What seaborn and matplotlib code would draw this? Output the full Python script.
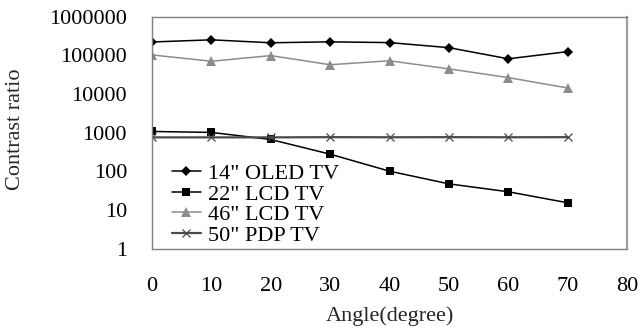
import matplotlib
matplotlib.use("Agg")
import matplotlib.pyplot as plt
import seaborn as sns
import pandas as pd

angles = [0, 10, 20, 30, 40, 50, 60, 70]
oled_14 = [220000, 250000, 210000, 222000, 212000, 157000, 81000, 124000]
lcd_22 = [1080, 1020, 670, 280, 102, 48, 30, 15.6]
lcd_46 = [102000, 70000, 98000, 57000, 72000, 44500, 26500, 14300]
pdp_50 = [760, 760, 760, 770, 765, 770, 765, 770]
series_names = ['14" OLED TV', '22" LCD TV', '46" LCD TV', '50" PDP TV']
y_ticks = [1, 10, 100, 1000, 10000, 100000, 1000000]
y_tick_labels = ["1", "10", "100", "1000", "10000", "100000", "1000000"]
x_ticks = [0, 10, 20, 30, 40, 50, 60, 70, 80]

sns.set_theme(style="white")
plt.rcParams["font.family"] = ["Liberation Serif", "DejaVu Serif"]

df = pd.DataFrame({
    "angle": angles * 4,
    "value": oled_14 + lcd_22 + lcd_46 + pdp_50,
    "series": [s for s in series_names for _ in angles],
})

styles = {
    series_names[0]: dict(color="black", marker="D", ms=5.5, mew=0, lw=1.1),
    series_names[1]: dict(color="black", marker="s", ms=6, mew=0, lw=1.1),
    series_names[2]: dict(color="#8c8c8c", marker="^", ms=7, mew=0, lw=1.1),
    series_names[3]: dict(color="#4a4a4a", marker="x", ms=6, mew=0.9, lw=1.6),
}

fig = plt.figure(figsize=(6.41, 3.34), dpi=100)
ax = fig.add_axes([152 / 641, 1 - 249 / 334, (627 - 152) / 641, (249 - 16.5) / 334])

for name in series_names:
    st = styles[name]
    sub = df[df["series"] == name]
    sns.lineplot(data=sub, x="angle", y="value", ax=ax, label=name,
                 color=st["color"], marker=st["marker"], markersize=st["ms"],
                 markeredgewidth=st["mew"], markeredgecolor=st["color"],
                 linewidth=st["lw"], estimator=None, sort=False)

ax.set_yscale("log")
ax.set_ylim(1, 1000000)
ax.set_xlim(0, 80)
ax.set_yticks(y_ticks)
ax.set_yticklabels(y_tick_labels)
ax.minorticks_off()
ax.set_xticks(x_ticks)
ax.set_xticklabels([str(v) for v in x_ticks])
ax.tick_params(axis="both", which="major", direction="in", length=6, width=0.8,
               color="#808080", labelsize=16, labelcolor="black")
ax.tick_params(axis="y", pad=18)
ax.tick_params(axis="x", pad=20)
for sp in ax.spines.values():
    sp.set_color("#808080")
    sp.set_linewidth(1.0)
ax.spines["right"].set_color("#a0a0a0")
ax.spines["right"].set_linewidth(1.6)
ax.set_xlabel("")
ax.set_ylabel("")
ax.grid(False)

fig.text(390 / 641, 1 - 316 / 334, "Angle(degree)", ha="center", va="center", fontsize=16)
fig.text(16 / 641, 1 - 190 / 334, "Contrast ratio", rotation=90,
         ha="center", va="bottom", fontsize=16)

leg = ax.legend(loc="upper left", bbox_to_anchor=(0.042, 0.368), frameon=False,
                fontsize=16, handlelength=1.3, handletextpad=0.3,
                labelspacing=0.0, borderpad=0.0, borderaxespad=0.0)
for t in leg.get_texts():
    t.set_color("black")

fig.savefig("out.png", dpi=100)
